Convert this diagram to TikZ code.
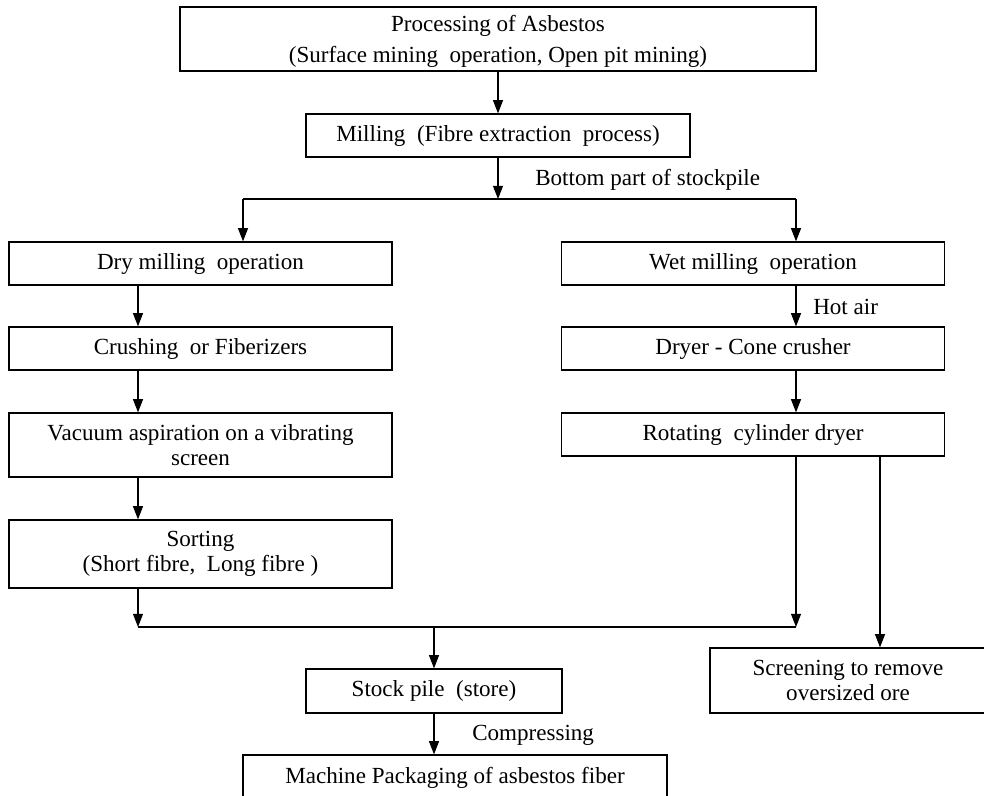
\documentclass[tikz,border=0pt]{standalone}
\usepackage{fontspec}
\setmainfont{Liberation Serif}
\usetikzlibrary{arrows.meta}

\begin{document}
\begin{tikzpicture}[x=0.025cm,y=-0.025cm]
\tikzstyle{box}=[draw,line width=0.9pt,inner sep=0pt,align=center,font=\fontsize{16.4}{18}\selectfont];
\tikzstyle{lbl}=[inner sep=0pt,anchor=west,font=\fontsize{16.4}{18}\selectfont];
\tikzstyle{arr}=[line width=0.8pt,-{Triangle[length=3.3mm,width=2.5mm]}];
\tikzstyle{bar}=[line width=1.2pt];
\useasboundingbox (0,0) rectangle (984,795);
% boxes
\node[box,minimum width=15.9cm,minimum height=1.6cm] (top) at (498,39)
  {\rule{0pt}{15pt}Processing of Asbestos\\[4pt](Surface mining~ operation, Open pit mining)};
\node[box,minimum width=9.6cm,minimum height=1.075cm] (mill) at (498,135.5) {Milling~ (Fibre extraction~ process)};
\node[box,minimum width=9.575cm,minimum height=1.075cm] (dry) at (200.5,263.5) {Dry milling~ operation};
\node[box,minimum width=9.575cm,minimum height=1.075cm] (wet) at (753,263.5) {Wet milling~ operation};
\node[box,minimum width=9.575cm,minimum height=1.075cm] (crush) at (200.5,348.5) {Crushing~ or Fiberizers};
\node[box,minimum width=9.575cm,minimum height=1.075cm] (dryer) at (753,348.5) {Dryer - Cone crusher};
\node[box,minimum width=9.575cm,minimum height=1.6cm] (vac) at (200.5,445) {Vacuum aspiration on a vibrating\\screen};
\node[box,minimum width=9.575cm,minimum height=1.075cm] (rot) at (753,434.5) {Rotating~ cylinder dryer};
\node[box,minimum width=9.575cm,minimum height=1.7cm] (sort) at (200.5,554) {Sorting\\(Short fibre,~ Long fibre~)};
\node[box,minimum width=6.4cm,minimum height=1.1cm] (stock) at (434,691) {Stock pile~ (store)};
\node[box,minimum width=6.9cm,minimum height=1.625cm] (screen) at (848,680.5) {Screening to remove\\oversized ore};
\node[box,minimum width=10.6cm,minimum height=1.15cm] (pack) at (455,778) {Machine Packaging of asbestos fiber};
% labels
\node[lbl] (bottomlbl) at (535,180) {Bottom part of stockpile};
\node[lbl] (hotair) at (813,307) {Hot air};
\node[lbl] (compress) at (472,735) {Compressing};
% junctions
\coordinate (jTop) at (498,199);
\coordinate (jL) at (243,199);
\coordinate (jR) at (796,199);
\coordinate (jBL) at (138,627);
\coordinate (jBR) at (796,627);
\coordinate (jBM) at (434,627);
\coordinate (jS) at (880,627);
% connectors
\draw[arr] (top) -- (mill);
\draw[arr] (mill) -- (jTop);
\draw[bar] (jL) -- (jR);
\draw[arr] (jL) -- (jL |- dry.north);
\draw[arr] (jR) -- (jR |- wet.north);
\draw[arr] (jBL |- dry.south) -- (jBL |- crush.north);
\draw[arr] (jBL |- crush.south) -- (jBL |- vac.north);
\draw[arr] (jBL |- vac.south) -- (jBL |- sort.north);
\draw[arr] (jBL |- sort.south) -- (jBL);
\draw[arr] (jR |- wet.south) -- (jR |- dryer.north);
\draw[arr] (jR |- dryer.south) -- (jR |- rot.north);
\draw[arr] (jR |- rot.south) -- (jBR);
\draw[arr] (jS |- rot.south) -- (jS |- screen.north);
\draw[bar] (jBL) -- (jBR);
\draw[arr] (jBM) -- (jBM |- stock.north);
\draw[arr] (stock.south) -- (stock.south |- pack.north);
\end{tikzpicture}
\end{document}
